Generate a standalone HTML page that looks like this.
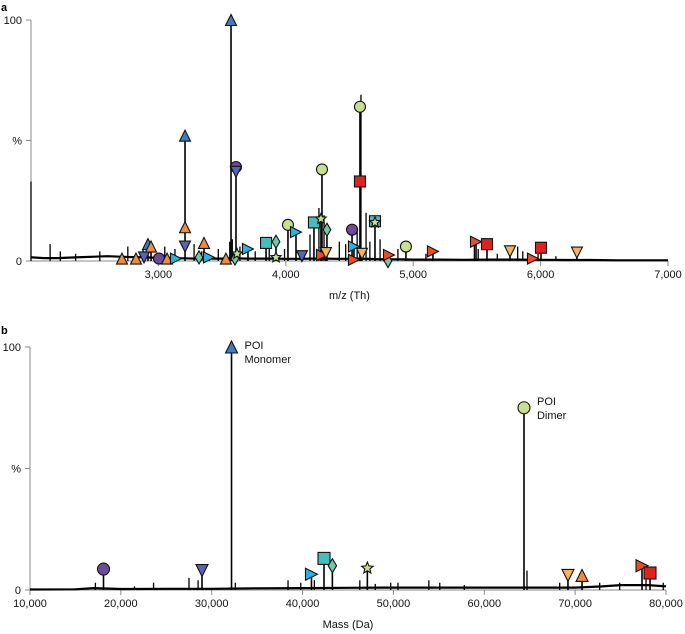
<!DOCTYPE html>
<html><head><meta charset="utf-8">
<style>
html,body{margin:0;padding:0;background:#fff;}
svg{display:block;font-family:"Liberation Sans",sans-serif;}
</style></head>
<body>
<svg id="chart" width="685" height="634" viewBox="0 0 685 634" xmlns="http://www.w3.org/2000/svg">
<text x="1" y="11" font-size="11" font-weight="bold">a</text>
<text x="1" y="334" font-size="11" font-weight="bold">b</text>
<g id="pa"></g>
<g id="pb"></g>
</svg>
<script>
// ---------- Panel A data (m/z spectrum) ----------
const aTicks = [3000, 4000, 5000, 6000, 7000];
const aTickLabels = ["3,000", "4,000", "5,000", "6,000", "7,000"];
const aBaseMz = [2000,2010,2100,2200,2300,2400,2500,2600,2700,2800,2900,3000,3100,3200,3300,3400,3500,3600,3700,3800,3900,4000,4100,4200,4300,4400,4500,4600,4700,4800,4900,5000,5200,5400,5600,5800,6000,6200,6400,6600,6800,7000];
const aBaseInt = [1.5,1.5,1.2,1.2,1.4,1.6,1.8,2,1.8,1.6,1.5,1.3,1.2,1.1,1,1,1,1.1,1,1,1,0.9,0.9,1,1,0.9,0.9,1,0.8,0.7,0.7,0.6,0.6,0.5,0.6,0.6,0.5,0.4,0.4,0.3,0.3,0.3];
const aSpikeMz = [2000,2150,2230,2350,2540,2760,2880,3050,3130,3280,3340,3470,3560,3580,3640,3760,3870,3990,4190,4260,4300,4420,4470,4560,4590,4630,4660,4740,4800,4880,5100,5480,5510,5660,5820,5860,5980,6120];
const aSpikeInt = [33,7,4,3,4,6,5,6,5,7,4,5,8,9,6,4,7,5,11,22,19,8,7,13,69,20,8,9,4,5,3,7,5,3,6,4,3,2];
const aMarkMz = [2714,2824,2887,2918,2942,3005,3068,3138,3209,3209,3209,3319,3397,3358,3530,3570,3609,3609,3601,3617,3703,3845,3923,3923,4017,4080,4127,4221,4276,4284,4284,4323,4315,4520,4535,4535,4582,4582,4598,4700,4700,4802,4810,4943,5155,5493,5579,5760,5940,6003,6285];
const aMarkInt = [1,1,1.5,7,6,1,1,1,52,14,6,1.5,1.5,7.5,1,100,39,37,1,3,5,7.5,8,1.5,15,12,2,16,17.5,38,2.5,13,3.3,13,6,0.5,64,33,3,16.5,16,0,2.5,6,4,8,7,4,1,5.5,3.5];
const aMarkType = ["up-orange","up-orange","down-indigo","up-blue","up-orange","circle-purple","up-orange","right-cyan","up-blue","up-orange","down-indigo","diamond","right-cyan","up-orange","up-orange","up-blue","circle-purple","down-indigo","diamond","star","right-cyan","square-teal","diamond","star","circle-green","right-cyan","down-indigo","square-teal","star","circle-green","right-red","diamond","down-yellow","circle-purple","right-cyan","right-red","circle-green","square-red","down-yellow","square-teal","star","diamond","right-red","circle-green","right-red","right-red","square-red","down-yellow","right-red","square-red","down-yellow"];

// ---------- Panel B data (deconvolved mass) ----------
const bTicks = [10000,20000,30000,40000,50000,60000,70000,80000];
const bTickLabels = ["10,000","20,000","30,000","40,000","50,000","60,000","70,000","80,000"];
const bBaseMz = [10000,15000,17000,20000,25000,30000,35000,40000,45000,50000,55000,60000,65000,70000,73000,75000,78000,80000];
const bBaseInt = [0.2,0.3,0.8,0.4,0.5,0.5,0.7,0.8,0.9,1,1,1,1,1,1.5,2,2,1.5];
const bSpikeMz = [17200,21500,23600,27500,28500,32600,38400,39800,41300,46300,48000,49700,50500,53900,55100,57800,64700,68300,72700,74900,77800,79700];
const bSpikeInt = [3,1.5,3,5,4,3,4,3,4,4,2.5,3,3,4,3,2,8,3,3,3,5,3];
const bMarkMz = [18090,28930,32180,40980,42360,43280,47130,64370,69210,70760,77360,78240];
const bMarkInt = [8.6,8,100,6.5,13,10,9,75,6,6,10,7];
const bMarkType = ["circle-purple","down-indigo","up-blue","right-cyan","square-teal","diamond","star","circle-green","down-yellow","up-orange","right-red","square-red"];

const NS = "http://www.w3.org/2000/svg";
const COLORS = {"up-blue":"#3d7cc4","up-orange":"#f28a3c","down-indigo":"#5a62b4","circle-purple":"#6a4c9c","right-cyan":"#25b4e6","diamond":"#74c9a4","square-teal":"#46bcbc","star":"#c6e08e","circle-green":"#c6e08e","right-red":"#ef4a24","square-red":"#e4201e","down-yellow":"#f6b458"};

function mk(tag, attrs, parent){
  const e = document.createElementNS(NS, tag);
  for (const k in attrs) e.setAttribute(k, attrs[k]);
  parent.appendChild(e);
  return e;
}

function marker(g, type, cx, cy, s){
  const fill = COLORS[type];
  const base = {fill: fill, stroke: "#111", "stroke-width": 1.1};
  let e;
  const h = s/2;
  if (type.startsWith("up")) e = mk("polygon", Object.assign({points:`${cx},${cy-h} ${cx-h},${cy+h} ${cx+h},${cy+h}`}, base), g);
  else if (type.startsWith("down")) e = mk("polygon", Object.assign({points:`${cx-h},${cy-h} ${cx+h},${cy-h} ${cx},${cy+h}`}, base), g);
  else if (type.startsWith("right")) e = mk("polygon", Object.assign({points:`${cx-h},${cy-h} ${cx+h},${cy} ${cx-h},${cy+h}`}, base), g);
  else if (type.startsWith("circle")) e = mk("circle", Object.assign({cx:cx, cy:cy, r:h}, base), g);
  else if (type.startsWith("square")) e = mk("rect", Object.assign({x:cx-h, y:cy-h, width:s, height:s}, base), g);
  else if (type === "diamond") e = mk("polygon", Object.assign({points:`${cx},${cy-h-1} ${cx+h*0.7},${cy} ${cx},${cy+h+1} ${cx-h*0.7},${cy}`}, base), g);
  else {
    let pts = [];
    for (let i=0;i<10;i++){ const r = i%2? h*0.45 : h; const a = -Math.PI/2 + i*Math.PI/5; pts.push((cx+r*Math.cos(a)).toFixed(1)+","+(cy+r*Math.sin(a)).toFixed(1)); }
    e = mk("polygon", Object.assign({points: pts.join(" ")}, base), g);
  }
  
  
}

function panel(g, cfg){
  const X = v => cfg.x0 + (v - cfg.vmin) / (cfg.vmax - cfg.vmin) * (cfg.x1 - cfg.x0);
  const Y = v => cfg.y0 - v / 100 * (cfg.y0 - cfg.y100);
  // axes
  const ya = mk("line", {x1:cfg.x0, y1:cfg.y100, x2:cfg.x0, y2:cfg.y0, stroke:"#888", "stroke-width":1}, g);
  
  
  const xa = mk("line", {x1:cfg.x0, y1:cfg.y0, x2:cfg.x1, y2:cfg.y0, stroke:"#888", "stroke-width":1}, g);
  
  
  [[100,"100"],[50,"%"],[0,"0"]].forEach(([v,l])=>{
    mk("line", {x1:cfg.x0-5, y1:Y(v), x2:cfg.x0, y2:Y(v), stroke:"#888"}, g);
    const t = mk("text", {x:cfg.x0-9, y:Y(v)+4, "font-size":11, "text-anchor":"end", fill:"#111"}, g);
    t.textContent = l;
    
    
  });
  cfg.ticks.forEach((v,i)=>{
    mk("line", {x1:X(v), y1:cfg.y0, x2:X(v), y2:cfg.y0+5, stroke:"#888"}, g);
    const t = mk("text", {x:X(v), y:cfg.y0+17, "font-size":11, "text-anchor":"middle", fill:"#111"}, g);
    t.textContent = cfg.tickLabels[i];
    
    
  });
  const tt = mk("text", {x:(cfg.x0+cfg.x1)/2, y:cfg.y0+38, "font-size":11, "text-anchor":"middle", fill:"#111"}, g);
  tt.textContent = cfg.title;
  
  
  // baseline trace
  const pts = cfg.baseMz.map((m,i)=>X(m).toFixed(1)+","+Y(cfg.baseInt[i]).toFixed(1)).join(" ");
  const bl = mk("polyline", {points:pts, fill:"none", stroke:"#000", "stroke-width":2.2}, g);
  
  
  // spikes
  cfg.spikeMz.forEach((m,i)=>{
    const s = mk("line", {x1:X(m), y1:cfg.y0, x2:X(m), y2:Y(cfg.spikeInt[i]), stroke:"#000", "stroke-width":1.3}, g);
    
    
  });
  // stems for annotated peaks
  const maxAt = {};
  cfg.markMz.forEach((m,i)=>{ maxAt[m] = Math.max(maxAt[m]||0, cfg.markInt[i]); });
  Object.keys(maxAt).forEach(m=>{
    const s = mk("line", {x1:X(+m), y1:cfg.y0, x2:X(+m), y2:Y(maxAt[m]), stroke:"#000", "stroke-width":1.6}, g);
    
    
  });
  cfg.markMz.forEach((m,i)=> marker(g, cfg.markType[i], X(m), Y(cfg.markInt[i]), cfg.ms));
  return {X, Y};
}

const A = panel(document.getElementById("pa"), {x0:31, x1:668, vmin:2000, vmax:7000, y0:261, y100:20, ticks:aTicks, tickLabels:aTickLabels, title:"m/z (Th)", baseMz:aBaseMz, baseInt:aBaseInt, spikeMz:aSpikeMz, spikeInt:aSpikeInt, markMz:aMarkMz, markInt:aMarkInt, markType:aMarkType, ms:11});
const gb = document.getElementById("pb");
const B = panel(gb, {x0:30, x1:666, vmin:10000, vmax:80000, y0:590, y100:347, ticks:bTicks, tickLabels:bTickLabels, title:"Mass (Da)", baseMz:bBaseMz, baseInt:bBaseInt, spikeMz:bSpikeMz, spikeInt:bSpikeInt, markMz:bMarkMz, markInt:bMarkInt, markType:bMarkType, ms:12});

function ann(x, y, lines, name){
  const t = mk("text", {x:x, y:y, "font-size":11, fill:"#111"}, gb);
  
  
  lines.forEach((l,i)=>{ const ts = mk("tspan", {x:x, dy: i? 14 : 0}, t); ts.textContent = l; });
}
ann(B.X(bMarkMz[2]) + 13, B.Y(100) + 2, ["POI","Monomer"], "poi-monomer-label");
ann(B.X(bMarkMz[7]) + 13, B.Y(75) - 3, ["POI","Dimer"], "poi-dimer-label");
</script>
</body></html>
